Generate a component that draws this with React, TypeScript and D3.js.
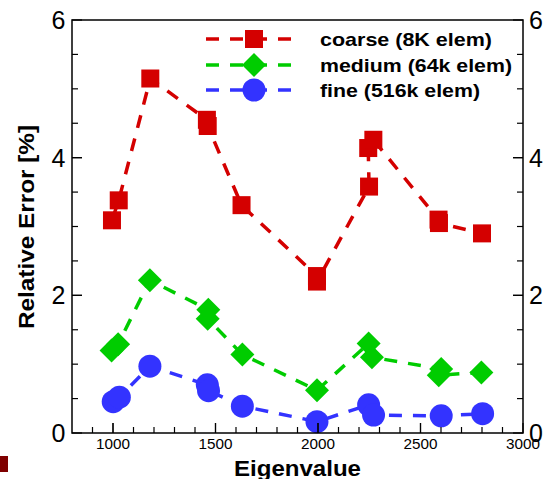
import React from "react";
import * as d3 from "d3";

const coarseX = [995, 1028, 1182, 1458, 1462, 1627, 1995, 1995, 2249, 2245, 2270, 2588, 2590, 2800];
const coarseY = [3.09, 3.38, 5.15, 4.55, 4.46, 3.31, 2.28, 2.2, 3.58, 4.14, 4.26, 3.1, 3.05, 2.9];

const mediumX = [993, 1025, 1180, 1465, 1462, 1631, 1995, 2247, 2263, 2601, 2589, 2797];
const mediumY = [1.2, 1.29, 2.22, 1.79, 1.66, 1.14, 0.62, 1.3, 1.1, 0.93, 0.84, 0.88];

const fineX = [1001, 1031, 1180, 1460, 1466, 1631, 1995, 2247, 2271, 2601, 2803];
const fineY = [0.455, 0.52, 0.97, 0.7, 0.615, 0.39, 0.165, 0.41, 0.26, 0.25, 0.28];

const legendLabels = ["coarse (8K elem)", "medium (64k elem)", "fine (516k elem)"];
const legendWidths = [172, 192, 160];
const xTicks = [1000, 1500, 2000, 2500, 3000];
const xMinor = d3.range(900, 3000, 100);
const yTicks = [0, 2, 4, 6];
const yMinor = d3.range(0.5, 6, 0.5);

const RED = "#d40000";
const GREEN = "#00cc00";
const BLUE = "#3333ff";
const FONT = "'Liberation Sans', Arial, Helvetica, sans-serif";

function Marker({ kind, x, y, color }: { kind: string; x: number; y: number; color: string }) {
  if (kind === "square") return <rect x={x - 9} y={y - 9} width={18} height={18} fill={color} />;
  if (kind === "diamond")
    return <path d={`M${x},${y - 12}L${x + 12},${y}L${x},${y + 12}L${x - 12},${y}Z`} fill={color} />;
  return <circle cx={x} cy={y} r={11.5} fill={color} />;
}

export default function App() {
  const L = 72, R = 523, T = 20, B = 433;
  const x = d3.scaleLinear().domain([800, 3000]).range([L, R]);
  const y = d3.scaleLinear().domain([0, 6]).range([B, T]);
  const line = d3.line<[number, number]>().x((d) => x(d[0])).y((d) => y(d[1]));

  const series = [
    { xs: coarseX, ys: coarseY, color: RED, kind: "square" },
    { xs: mediumX, ys: mediumY, color: GREEN, kind: "diamond" },
    { xs: fineX, ys: fineY, color: BLUE, kind: "circle" },
  ];
  const legendRowY = [39, 65, 90];

  return (
    <svg width={544} height={479} style={{ position: "absolute", left: 0, top: 0, background: "#fff" }} fontFamily={FONT}>
      <rect x={0} y={0} width={544} height={479} fill="#fff" />
      {series.map((s, i) => {
        const pts: [number, number][] = s.xs.map((v, j) => [v, s.ys[j]]);
        return (
          <g key={i}>
            <path d={line(pts) || ""} fill="none" stroke={s.color} strokeWidth={3.5} strokeDasharray="13,11" />
            {pts.map((p, j) => (
              <Marker key={j} kind={s.kind} x={x(p[0])} y={y(p[1])} color={s.color} />
            ))}
          </g>
        );
      })}
      <rect x={L} y={T} width={R - L} height={B - T} fill="none" stroke="#000" strokeWidth={1.5} />
      {xMinor.map((t) => (
        <line key={"xm" + t} x1={x(t)} x2={x(t)} y1={B} y2={B - (t % 500 === 0 ? 10 : 6)} stroke="#000" strokeWidth={1.2} />
      ))}
      {xTicks.map((t) => (
        <g key={"xt" + t}>
          <line x1={x(t)} x2={x(t)} y1={B} y2={B - 10} stroke="#000" strokeWidth={1.2} />
          <text x={x(t)} y={449} textAnchor="middle" fontSize={14.5} textLength={34} lengthAdjust="spacingAndGlyphs">
            {t}
          </text>
        </g>
      ))}
      {yMinor.map((t) => (
        <g key={"ym" + t}>
          <line x1={L} x2={L + (t % 2 === 0 ? 10 : 6)} y1={y(t)} y2={y(t)} stroke="#000" strokeWidth={1.2} />
          <line x1={R} x2={R - (t % 2 === 0 ? 10 : 6)} y1={y(t)} y2={y(t)} stroke="#000" strokeWidth={1.2} />
        </g>
      ))}
      {yTicks.map((t) => (
        <g key={"yt" + t}>
          <line x1={L} x2={L + 10} y1={y(t)} y2={y(t)} stroke="#000" strokeWidth={1.2} />
          <line x1={R} x2={R - 10} y1={y(t)} y2={y(t)} stroke="#000" strokeWidth={1.2} />
          <text x={65.5} y={y(t)} dy="0.36em" textAnchor="end" fontSize={25}>
            {t}
          </text>
          <text x={529} y={y(t)} dy="0.36em" textAnchor="start" fontSize={25}>
            {t}
          </text>
        </g>
      ))}
      <text x={234} y={476} fontSize={22} fontWeight="bold" textLength={127} lengthAdjust="spacingAndGlyphs">
        Eigenvalue
      </text>
      <text
        transform="translate(34,227) rotate(-90)"
        textAnchor="middle"
        fontSize={21.5}
        fontWeight="bold"
        textLength={204}
        lengthAdjust="spacingAndGlyphs"
      >
        Relative Error [%]
      </text>
      {series.map((s, i) => (
        <g key={"lg" + i}>
          <line x1={206} x2={295} y1={legendRowY[i]} y2={legendRowY[i]} stroke={s.color} strokeWidth={3.5} strokeDasharray="13,11" />
          <Marker kind={s.kind} x={254} y={legendRowY[i]} color={s.color} />
          <text x={320} y={legendRowY[i] + 6.5} fontSize={19} fontWeight="bold" textLength={legendWidths[i]} lengthAdjust="spacingAndGlyphs">
            {legendLabels[i]}
          </text>
        </g>
      ))}
      <rect x={0} y={456} width={8} height={16} fill="#7f0000" />
    </svg>
  );
}
